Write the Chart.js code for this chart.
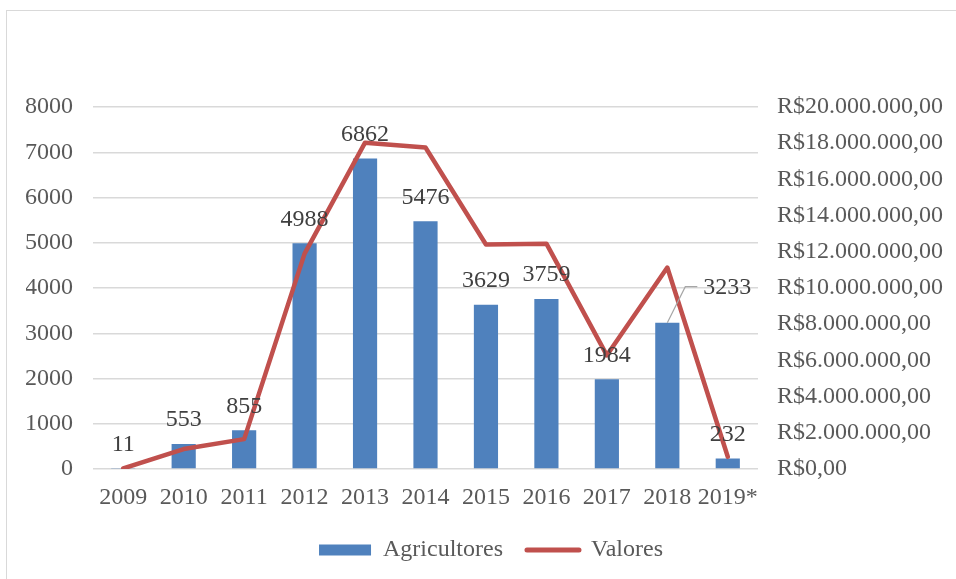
<!DOCTYPE html>
<html>
<head>
<meta charset="utf-8">
<script src="https://cdn.jsdelivr.net/npm/chart.js@4/dist/chart.umd.min.js"></script>
<style>
	html, body { margin: 0; padding: 0; background: #fff; overflow: hidden; }
	#frame { position: absolute; left: 6px; top: 10px; width: 1200px; height: 900px; border: 1px solid #d9d9d9; }
	#wrap { position: absolute; left: 0; top: 0; width: 956px; height: 579px; }
</style>
</head>
<body>
<div id="frame"></div>
<div id="wrap"><canvas id="grafico" width="956" height="579"></canvas></div>
<script>
'use strict';

// dados
const anos = ['2009', '2010', '2011', '2012', '2013', '2014', '2015', '2016', '2017', '2018', '2019*'];
const agricultores = [11, 553, 855, 4988, 6862, 5476, 3629, 3759, 1984, 3233, 232];
const valores = [30000, 1100000, 1650000, 11900000, 18030000, 17760000, 12400000, 12450000, 6280000, 11130000, 680000];
const ticksEsquerda = [0, 8000, 1000];
const ticksDireita = [0, 20000000, 2000000];

const FONTE = '"Liberation Serif", "Times New Roman", serif';
const TAM = 24;
const AZUL = '#4F81BD';
const VERMELHO = '#C0504D';

function formataReal(v){
	let inteiro = Math.round(v).toString().replace(/\B(?=(\d{3})+(?!\d))/g, '.');
	return 'R$' + inteiro + ',00';
}

// rótulos de dados das barras (o 3233 tem linha de chamada)
const rotulosBarras = {
	id: 'rotulosBarras',
	afterDatasetsDraw(chart){
		let ctx = chart.ctx;
		let meta = chart.getDatasetMeta(0);
		ctx.save();
		ctx.font = TAM + 'px ' + FONTE;
		ctx.fillStyle = '#404040';
		ctx.textBaseline = 'middle';
		for(let i = 0; i < meta.data.length; i++){
			let bar = meta.data[i];
			if(i == 9){
				ctx.strokeStyle = '#a6a6a6';
				ctx.lineWidth = 1.2;
				ctx.beginPath();
				ctx.moveTo(bar.x, bar.y);
				ctx.lineTo(bar.x + 18, bar.y - 36);
				ctx.lineTo(bar.x + 30, bar.y - 36);
				ctx.stroke();
				ctx.textAlign = 'left';
				ctx.fillText(agricultores[i], bar.x + 36, bar.y - 35);
			}else{
				ctx.textAlign = 'center';
				ctx.fillText(agricultores[i], bar.x, bar.y - 24);
			}
		}
		ctx.restore();
	}
};

new Chart(document.getElementById('grafico'), {
	data: {
		labels: anos,
		datasets: [{
			type: 'bar',
			label: 'Agricultores',
			data: agricultores,
			backgroundColor: AZUL,
			yAxisID: 'y',
			order: 1,
			barPercentage: 0.4,
			categoryPercentage: 1
		}, {
			type: 'line',
			label: 'Valores',
			data: valores,
			borderColor: VERMELHO,
			backgroundColor: VERMELHO,
			borderWidth: 4.5,
			borderJoinStyle: 'round',
			borderCapStyle: 'round',
			pointRadius: 0,
			tension: 0,
			yAxisID: 'y1',
			order: 0
		}]
	},
	options: {
		responsive: false,
		animation: false,
		layout: { padding: { top: 107, bottom: 7, left: 26, right: 0 } },
		plugins: {
			tooltip: { enabled: false },
			legend: {
				position: 'bottom',
				labels: {
					usePointStyle: true,
					pointStyleWidth: 52,
					boxHeight: 11,
					padding: 24,
					color: '#595959',
					font: { family: FONTE, size: TAM },
					generateLabels(chart){
						return [{
							text: 'Agricultores', datasetIndex: 0, pointStyle: 'rect',
							fillStyle: AZUL, strokeStyle: AZUL, lineWidth: 0, fontColor: '#595959'
						}, {
							text: 'Valores', datasetIndex: 1, pointStyle: 'line',
							fillStyle: VERMELHO, strokeStyle: VERMELHO, lineWidth: 5, lineCap: 'round', fontColor: '#595959'
						}];
					}
				}
			}
		},
		scales: {
			x: {
				grid: { display: false, drawTicks: false },
				border: { display: false },
				ticks: { color: '#595959', font: { family: FONTE, size: TAM }, padding: 14, maxRotation: 0, autoSkip: false },
				afterFit(scale){ scale.height = 45; }
			},
			y: {
				position: 'left',
				min: ticksEsquerda[0],
				max: ticksEsquerda[1],
				grid: { color: '#d9d9d9', lineWidth: 1.5, drawTicks: false },
				border: { display: false },
				ticks: { stepSize: ticksEsquerda[2], color: '#595959', font: { family: FONTE, size: TAM }, padding: 20, callback: (v) => String(v) },
				afterFit(scale){ scale.width = 67; }
			},
			y1: {
				position: 'right',
				min: ticksDireita[0],
				max: ticksDireita[1],
				grid: { display: false, drawTicks: false },
				border: { display: false },
				ticks: { stepSize: ticksDireita[2], color: '#595959', font: { family: FONTE, size: TAM }, padding: 19, callback: (v) => formataReal(v) },
				afterFit(scale){ scale.width = 198; }
			}
		}
	},
	plugins: [rotulosBarras]
});
</script>
</body>
</html>
